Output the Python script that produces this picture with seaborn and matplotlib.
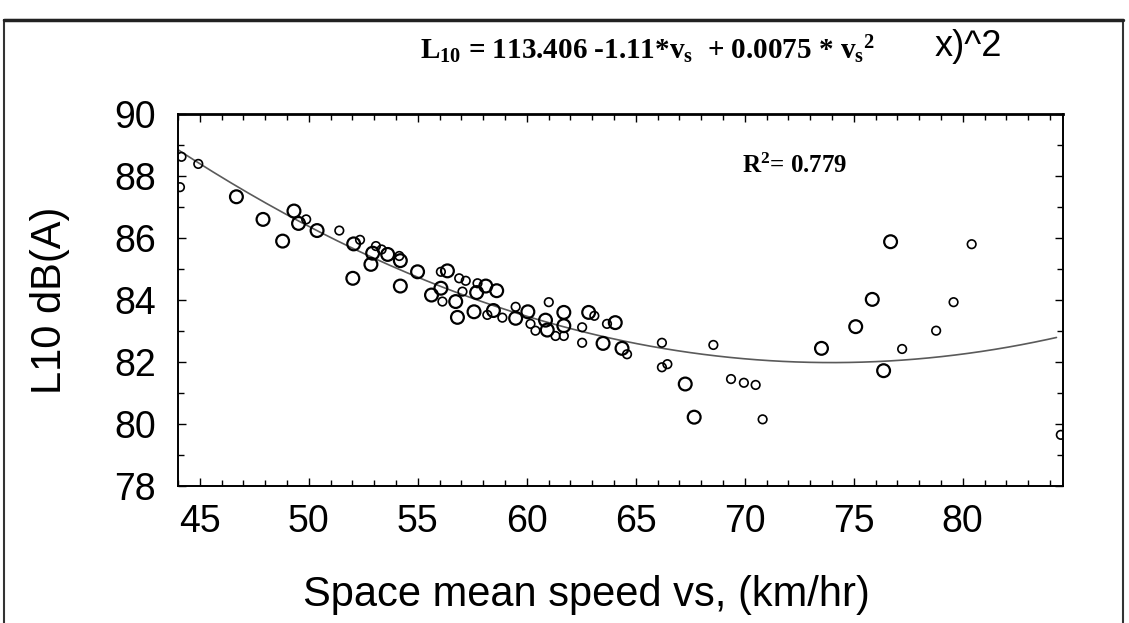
import numpy as np
import pandas as pd
import matplotlib
matplotlib.use("Agg")
import matplotlib.pyplot as plt
from matplotlib.patches import Rectangle
from matplotlib.lines import Line2D
from matplotlib.ticker import MultipleLocator
import seaborn as sns

# ---- data ----
speed = [44.16, 44.93, 44.09, 46.68, 47.90, 48.80, 49.32, 49.53, 49.88, 50.38,
         51.40, 52.06, 52.35, 52.02, 52.93, 52.85, 53.08, 53.34, 53.62, 54.15,
         54.20, 54.20, 54.99, 56.06, 56.36, 56.90, 57.20, 56.06, 55.63, 56.13,
         56.74, 57.05, 57.74, 57.70, 58.12, 58.62, 56.82, 57.58, 58.19, 58.47,
         58.88, 59.49, 59.49, 60.05, 60.17, 60.40, 60.86, 60.94, 61.01, 61.32,
         61.70, 61.70, 61.70, 62.54, 62.54, 62.84, 63.10, 63.50, 63.68, 64.06,
         64.37, 64.60, 66.20, 66.20, 66.45, 67.27, 67.68, 68.56, 69.37, 69.96,
         70.50, 70.82, 73.52, 75.09, 75.85, 76.37, 77.22, 78.78, 79.58, 84.50,
         76.69, 80.41]
l10 = [88.62, 88.39, 87.64, 87.33, 86.60, 85.90, 86.87, 86.47, 86.60, 86.24,
       86.24, 85.81, 85.94, 84.70, 85.51, 85.15, 85.74, 85.63, 85.47, 85.42,
       85.27, 84.45, 84.91, 84.91, 84.94, 84.70, 84.62, 84.38, 84.16, 83.95,
       83.95, 84.27, 84.54, 84.24, 84.45, 84.30, 83.44, 83.62, 83.52, 83.66,
       83.43, 83.78, 83.41, 83.62, 83.23, 83.01, 83.35, 83.03, 83.93, 82.84,
       83.60, 83.17, 82.84, 83.12, 82.62, 83.60, 83.49, 82.60, 83.23, 83.27,
       82.44, 82.25, 82.62, 81.83, 81.93, 81.29, 80.22, 82.55, 81.45, 81.33,
       81.26, 80.15, 82.44, 83.14, 84.02, 81.72, 82.42, 83.01, 83.93, 79.65,
       85.88, 85.80]
marker_kind = list("SSSLLLLLSLSLSLLLSSLSLLLSLSSLLSLSSLLLLLSLSSLLSSLLSSLLSSSLSLSLLSSSSLLSSSSSLLLLSSSSLS")

fit_coef = [0.00763, -1.1292, 123.76]   # quadratic fit curve
fit_range = [44.0, 84.3]

x_ticks = [45, 50, 55, 60, 65, 70, 75, 80]
y_ticks = [78, 80, 82, 84, 86, 88, 90]

equation = r"L$_{\mathbf{10}}$ = 113.406 -1.11*v$_{\mathbf{s}}$  + 0.0075 * v$_{\mathbf{s}}$$^{\mathbf{2}}$"
r2_text = r"R$^{\mathbf{2}}$= 0.779"
xlabel = "Space mean speed vs, (km/hr)"
ylabel = "L10 dB(A)"

# ---- build ----
df = pd.DataFrame({"speed": speed, "l10": l10, "kind": marker_kind})
xs = np.linspace(fit_range[0], fit_range[1], 200)
fit_df = pd.DataFrame({"speed": xs, "l10": np.polyval(fit_coef, xs)})

sns.set_theme(style="white")
plt.rcParams["font.family"] = ["Liberation Sans", "DejaVu Sans"]
plt.rcParams["mathtext.fontset"] = "custom"
plt.rcParams["mathtext.rm"] = "Liberation Serif:bold"
plt.rcParams["mathtext.bf"] = "Liberation Serif:bold"
plt.rcParams["mathtext.it"] = "Liberation Serif:bold"

fig = plt.figure(figsize=(11.29, 6.23), dpi=100)
ax = fig.add_axes([178 / 1129, 137 / 623, 885 / 1129, 372 / 623])

sns.lineplot(data=fit_df, x="speed", y="l10", ax=ax, color="#5a5a5a", lw=1.2)
big = df[df["kind"] == "L"]
small = df[df["kind"] == "S"]
sns.scatterplot(data=big, x="speed", y="l10", ax=ax, marker="o", s=85,
                facecolor="none", edgecolor="black", linewidth=1.6, zorder=3)
sns.scatterplot(data=small, x="speed", y="l10", ax=ax, marker="o", s=38,
                facecolor="none", edgecolor="black", linewidth=1.2, zorder=3)

ax.set_xlim(44.0, 84.6)
ax.set_ylim(78, 90)
ax.set_xticks(x_ticks)
ax.set_yticks(y_ticks)
ax.xaxis.set_minor_locator(MultipleLocator(1))
ax.yaxis.set_minor_locator(MultipleLocator(1))
ax.tick_params(which="both", direction="in", top=True, right=True,
               bottom=True, left=True, color="black", width=1.0)
ax.tick_params(which="major", length=6)
ax.tick_params(which="minor", length=4)
ax.tick_params(axis="x", which="major", labelsize=27, pad=13)
ax.tick_params(axis="y", which="major", labelsize=27, pad=16)
for lab in ax.get_xticklabels() + ax.get_yticklabels():
    lab.set_color("black")
ax.set_xlabel("")
ax.set_ylabel("")
for side, sp in ax.spines.items():
    sp.set_color("black")
    sp.set_linewidth(1.4)
ax.spines["top"].set_linewidth(2.0)

fig.text(586 / 1129, 1 - 595 / 623, xlabel, ha="center", va="center",
         fontsize=30, color="black")
fig.text(50 / 1129, 1 - 300 / 623, ylabel, ha="center", va="center",
         rotation=90, fontsize=30, color="black")

fig.text(420 / 1129, 1 - 50 / 623, equation, ha="left", va="center",
         fontsize=21, color="black", family="Liberation Serif", weight="bold")
fig.text(935 / 1129, 1 - 47 / 623, "x)^2", ha="left", va="center",
         fontsize=26, color="black")
ax.text(742 / 1129, 1 - 166 / 623, r2_text, transform=fig.transFigure,
        ha="left", va="center", fontsize=18, color="black",
        family="Liberation Serif", weight="bold")

# figure frame of the scanned panel
fig.add_artist(Rectangle((4 / 1129, -0.05), 1119 / 1129, (623 - 20) / 623 + 0.05,
                         transform=fig.transFigure, fill=False,
                         edgecolor="#333333", linewidth=1.5))
fig.add_artist(Line2D([4 / 1129, 1123 / 1129], [1 - 20 / 623, 1 - 20 / 623],
                      transform=fig.transFigure, color="#222222", linewidth=2.5))

fig.savefig("out.png", dpi=100, facecolor="white")
